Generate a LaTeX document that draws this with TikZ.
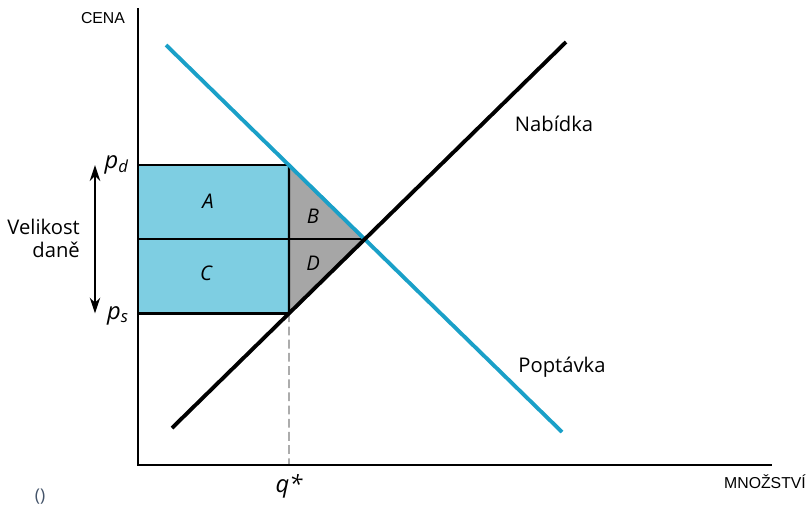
\documentclass[tikz,border=0pt]{standalone}
\usepackage{fontspec}
\setmainfont{Open Sans}
\newfontfamily\arialfont{Liberation Sans}
\usetikzlibrary{calc,intersections,arrows.meta}
\definecolor{curveblue}{HTML}{1AA0C8}
\definecolor{areablue}{HTML}{7ECEE2}
\definecolor{areagray}{HTML}{A6A6A6}
\definecolor{notegray}{HTML}{44546A}

\begin{document}
\begin{tikzpicture}[x=0.02cm, y=-0.02cm,
    lbl/.style={font=\fontsize{11.5}{13}\selectfont},
    area/.style={font=\fontsize{11.5}{13}\selectfont\itshape},
    price/.style={font=\fontsize{13.5}{15}\selectfont\itshape},
    axislbl/.style={font=\arialfont\fontsize{9}{11}\selectfont}]
    \useasboundingbox (0,0) rectangle (810,512);
    \coordinate (O) at (138,465);
    \coordinate (Ytop) at (138,8);
    \coordinate (Xend) at (772,465);
    \coordinate (D1) at (166,45);
    \coordinate (D2) at (562,432);
    \coordinate (S1) at (172,428);
    \coordinate (S2) at (566,42);
    \coordinate (Q) at (289,465);
    \path[name path=demand] (D1)--(D2);
    \path[name path=supply] (S1)--(S2);
    \path[name path=qline] (289,0)--(Q);
    \path[name intersections={of=demand and supply, by=E}];
    \path[name intersections={of=demand and qline, by=Pd}];
    \path[name intersections={of=supply and qline, by=Ps}];
    \coordinate (Pdaxis) at (O|-Pd);
    \coordinate (Psaxis) at (O|-Ps);
    \coordinate (Eaxis) at (O|-E);
    % plochy
    \filldraw[fill=areablue, draw=black, line width=1.4pt] (Pdaxis) rectangle (Ps);
    \filldraw[fill=areagray, draw=black, line width=1.4pt] (Pd)--(E)--(Ps)--cycle;
    \draw[line width=1.4pt] (Eaxis)--(E);
    \draw[dash pattern=on 5pt off 2.5pt, gray, line width=0.6pt] (Ps)--(Q);
    % osy a krivky
    \draw[line width=1.4pt] (Ytop)--(O)--(Xend);
    \draw[curveblue, line width=2.2pt] (D1)--(D2);
    \draw[line width=2.2pt] (S1)--(S2);
    \coordinate (ArrTop) at ($(Pdaxis)+(-43,0)$);
    \coordinate (ArrBot) at ($(Psaxis)+(-43,0)$);
    \draw[{Stealth[length=9pt,width=6pt]}-{Stealth[length=9pt,width=6pt]}, line width=0.9pt] (ArrTop)--(ArrBot);
    % popisky
    \node[axislbl] (cena) at (103,18) {CENA};
    \node[axislbl] (mnozstvi) at (765,482) {MNOŽSTVÍ};
    \node[lbl] (nabidka) at (554,124) {Nabídka};
    \node[lbl] (poptavka) at (562,367) {Poptávka};
    \node[lbl, align=right, anchor=east] (velikost) at (86,238) {Velikost\\daně};
    \node[price, anchor=east] (pd) at ($(Pdaxis)+(-3,0)$) {p\textsubscript{d}};
    \node[price, anchor=east] (ps) at ($(Psaxis)+(-3,2)$) {p\textsubscript{s}};
    \node[price] (q) at (289,486) {q*};
    \node[area] (A) at (208,201) {A};
    \node[area] (B) at (313,216) {B};
    \node[area] (C) at (206,273) {C};
    \node[area] (D) at (313,263) {D};
    \node[font=\fontsize{10}{12}\selectfont, text=notegray] (note) at (40,497) {()};
\end{tikzpicture}
\end{document}
